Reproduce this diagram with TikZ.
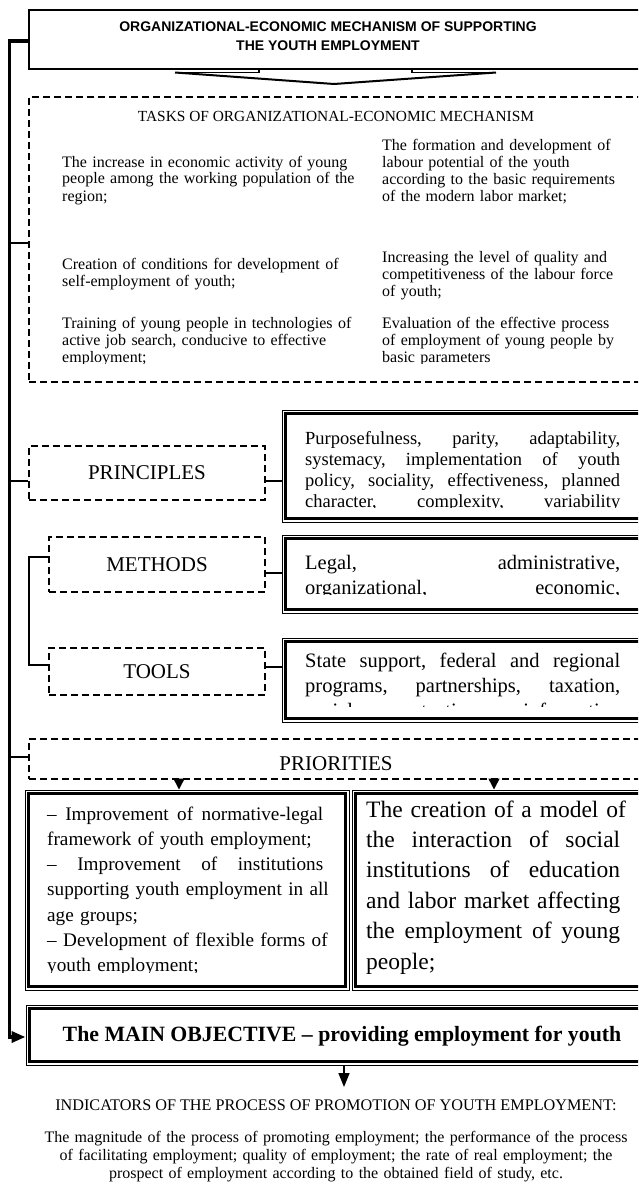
\documentclass[tikz,border=0pt]{standalone}
\usepackage{fontspec}
\setmainfont{Liberation Serif}
\newfontfamily\titlefont{Liberation Sans}
\usetikzlibrary{arrows.meta,calc}
\tikzset{
  trunk/.style={line width=3.5pt, line join=miter},
  link/.style={line width=1.5pt},
  dashbox/.style={draw, rectangle, inner sep=0pt, line width=1.2pt, dash pattern=on 7pt off 4pt},
  solidbox/.style={draw, rectangle, inner sep=0pt, line width=1.6pt},
  dblbox/.style={draw, rectangle, inner sep=0pt, line width=1pt},
  innerline/.style={line width=2.6pt},
  txt/.style={inner sep=0pt, anchor=base west, align=left},
  lab/.style={font=\fontsize{21}{24}\selectfont},
  tip/.style={-{Triangle[length=11pt,width=11pt]}},
  bigtip/.style={-{Triangle[length=14pt,width=11pt]}},
}
\newcommand\innerframe[1]{\draw[innerline] ([shift={(4,4)}]#1.north west) rectangle ([shift={(-4,-4)}]#1.south east);}
\newcommand\jline[1]{\leavevmode\hbox to \linewidth{#1}}
\begin{document}
\begin{tikzpicture}[x=1pt,y=-1pt]
\useasboundingbox (0,0) rectangle (638,1204);
\fill[white] (0,0) rectangle (638,1204);
\clip (0,0) rectangle (638,1204);

% title block arrow
\draw[line width=1.3pt, fill=white] (259,68) -- (259,72.5) -- (175,72.5);
\draw[line width=1.3pt] (412,68) -- (412,72.5) -- (496,72.5);
\draw[line width=2pt, line join=miter] (175,72.5) -- (334,84) -- (496,72.5);
% title
\node[solidbox, minimum width=616pt, minimum height=59pt] (title) at (337,39.5) {};
\node[inner sep=0pt, align=center, font=\titlefont\bfseries\fontsize{14}{19}\selectfont] (titletext) at (328,36.5)
  {ORGANIZATIONAL-ECONOMIC MECHANISM OF SUPPORTING\\THE YOUTH EMPLOYMENT};

% tasks
\node[dashbox, minimum width=616pt, minimum height=285pt] (tasks) at (337,239.5) {};
\node[inner sep=0pt, anchor=base, font=\fontsize{15.4}{18}\selectfont] (taskstitle) at (336,122)
  {TASKS OF ORGANIZATIONAL-ECONOMIC MECHANISM};
\begin{scope}[every node/.style={txt, font=\fontsize{16}{17}\selectfont}]
\node[text width=300pt] (t1) at (62,167) {The increase in economic activity of young\\people among the working population of the\\region;};
\node[text width=250pt] (t2) at (382,150) {The formation and development of\\labour potential of the youth\\according to the basic requirements\\of the modern labor market;};
\node[text width=300pt] (t3) at (62,269) {Creation of conditions for development of\\self-employment of youth;};
\node[text width=250pt] (t4) at (382,262) {Increasing the level of quality and\\competitiveness of the labour force\\of youth;};
\clip (0,0) rectangle (638,363);
\node[text width=300pt] (t5) at (62,328) {Training of young people in technologies of\\active job search, conducive to effective\\employment;};
\node[text width=250pt] (t6) at (382,328) {Evaluation of the effective process\\of employment of young people by\\basic parameters};
\end{scope}

% principles / methods / tools
\node[dashbox, lab, minimum width=236pt, minimum height=54pt] (plab) at (147,473) {PRINCIPLES};
\node[dblbox, minimum width=363pt, minimum height=112pt] (pcont) at (463.5,466) {};
\innerframe{pcont}
\begin{scope}
\clip (0,0) rectangle (638,507.5);
\node[txt, text width=315pt, font=\fontsize{18.5}{21}\selectfont] (ptext) at (305,444)
 {\jline{Purposefulness, \hfill parity, \hfill adaptability,}\\
  \jline{systemacy, \hfill implementation \hfill of \hfill youth}\\
  \jline{policy, \hfill sociality, \hfill effectiveness, \hfill planned}\\
  \jline{character, \hfill complexity, \hfill variability}};
\end{scope}

\node[dashbox, lab, minimum width=216pt, minimum height=55pt] (mlab) at (157,564.5) {METHODS};
\node[dblbox, minimum width=363pt, minimum height=78pt] (mcont) at (463.5,574) {};
\innerframe{mcont}
\begin{scope}
\clip (0,0) rectangle (638,594.5);
\node[txt, text width=315pt, font=\fontsize{20.5}{25}\selectfont] (mtext) at (305,569)
 {\jline{Legal, \hfill administrative,}\\
  \jline{organizational, \hfill economic,}};
\end{scope}

\node[dashbox, lab, minimum width=216pt, minimum height=47pt] (tlab) at (157,671.5) {TOOLS};
\node[dblbox, minimum width=363pt, minimum height=84pt] (tcont) at (463.5,680) {};
\innerframe{tcont}
\begin{scope}
\clip (0,0) rectangle (638,706.5);
\node[txt, text width=315pt, font=\fontsize{20.5}{25}\selectfont] (ttext) at (305,667)
 {\jline{State \hfill support, \hfill federal \hfill and \hfill regional}\\
  \jline{programs, \hfill partnerships, \hfill taxation,}\\
  \jline{social \hfill protection, \hfill information}};
\end{scope}

% priorities
\node[dashbox, minimum width=616pt, minimum height=40pt] (prio) at (337,759) {};
\node[inner sep=0pt, anchor=base, lab] (priotext) at (336,770) {PRIORITIES};
\node[dblbox, minimum width=324pt, minimum height=200pt] (PL) at (187,890) {};
\innerframe{PL}
\node[dblbox, minimum width=293pt, minimum height=200pt] (PR) at (498.5,890) {};
\innerframe{PR}
\begin{scope}
\clip (0,0) rectangle (638,972.5);
\node[txt, text width=276pt, font=\fontsize{19.2}{25.3}\selectfont] (pltext) at (47,820)
 {\jline{– \hfill Improvement \hfill of \hfill normative-legal}\\
  framework of youth employment;\\
  \jline{– \hfill Improvement \hfill of \hfill institutions}\\
  \jline{supporting \hfill youth \hfill employment \hfill in \hfill all}\\
  age groups;\\
  \jline{– \hfill Development \hfill of \hfill flexible \hfill forms \hfill of}\\
  youth employment;};
\end{scope}
\node[txt, text width=254pt, font=\fontsize{23.5}{30.4}\selectfont] (prtext) at (366,817)
 {\jline{The \hfill creation \hfill of \hfill a \hfill model \hfill of}\\
  \jline{the \hfill interaction \hfill of \hfill social}\\
  \jline{institutions \hfill of \hfill education}\\
  \jline{and \hfill labor \hfill market \hfill affecting}\\
  \jline{the \hfill employment \hfill of \hfill young}\\
  people;};

% main objective
\node[dblbox, minimum width=619pt, minimum height=60pt] (main) at (335.5,1035) {};
\innerframe{main}
\node[inner sep=0pt, anchor=base, font=\bfseries\fontsize{21.8}{26}\selectfont] (maintext) at (342,1041)
  {The MAIN OBJECTIVE – providing employment for youth};

% indicators
\node[inner sep=0pt, anchor=base, font=\fontsize{16.2}{19}\selectfont] (indtitle) at (336,1110.5)
  {INDICATORS OF THE PROCESS OF PROMOTION OF YOUTH EMPLOYMENT:};
\node[inner sep=0pt, anchor=base, text width=610pt, align=center, font=\fontsize{16}{18}\selectfont] (indtext) at (336,1142)
  {The magnitude of the process of promoting employment; the performance of the process\\
   of facilitating employment; quality of employment; the rate of real employment; the\\
   prospect of employment according to the obtained field of study, etc.};

% trunk and connectors
\coordinate (trunktop) at (9.5,41);
\coordinate (trunkbot) at (9.5,1037);
\draw[trunk, bigtip] (title.west |- trunktop) -- (trunktop) -- (trunkbot) -- (trunkbot -| main.west);
\coordinate (c1) at (9.5,243);
\draw[link] (c1) -- (c1 -| tasks.west);
\coordinate (c2) at (9.5,481);
\draw[link] (c2) -- (c2 -| plab.west);
\draw[link] (c2 -| plab.east) -- (c2 -| pcont.west);
\coordinate (c3) at (265,573);
\draw[link] (c3 -| mlab.east) -- (c3 -| mcont.west);
\coordinate (c4) at (265,667);
\draw[link] (c4 -| tlab.east) -- (c4 -| tcont.west);
\coordinate (b1) at (29,557);
\coordinate (b2) at (29,665);
\draw[link] (b1 -| mlab.west) -- (b1) -- (b2) -- (b2 -| tlab.west);
\coordinate (c5) at (9.5,757);
\draw[link] (c5) -- (c5 -| prio.west);
\coordinate (pa1) at (179,780);
\coordinate (pa2) at (494,780);
\draw[link, tip] (pa1 |- prio.south) -- (pa1 |- PL.north);
\draw[link, tip] (pa2 |- prio.south) -- (pa2 |- PR.north);
\coordinate (mtip) at (344,1087);
\draw[link, bigtip] (mtip |- main.south) -- (mtip);
\end{tikzpicture}
\end{document}
